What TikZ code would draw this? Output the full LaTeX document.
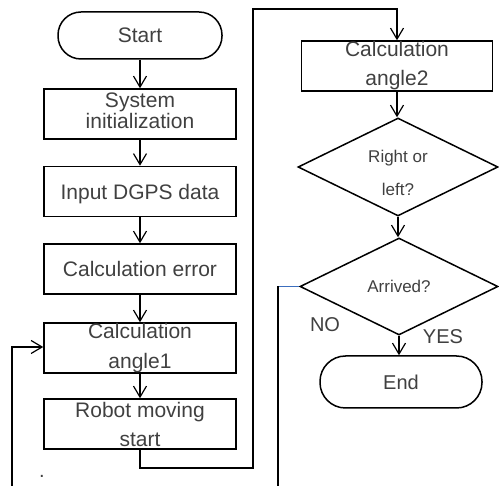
\documentclass[tikz,border=0pt]{standalone}
\usepackage{fontspec}
\setmainfont{Liberation Sans}
\usetikzlibrary{shapes.geometric,arrows.meta}
\begin{document}
\begin{tikzpicture}[x=1pt,y=-1pt,
  every node/.style={text=black!75},
  box/.style={draw=black,line width=1.5pt,minimum width=192pt,minimum height=50pt,inner sep=0pt,align=center,font=\fontsize{21}{21}\selectfont},
  term/.style={draw=black,line width=1.5pt,inner sep=0pt,font=\fontsize{21}{21}\selectfont},
  dec/.style={diamond,shape aspect=2,draw=black,line width=1.5pt,minimum width=200pt,minimum height=98pt,inner sep=0pt,align=center,font=\fontsize{17}{33}\selectfont},
  conn/.style={line width=1.2pt,-{Straight Barb[length=11pt,width=13pt,line width=1.2pt]}},
  plain/.style={line width=1.2pt},
  lbl/.style={font=\fontsize{20}{20}\selectfont,inner sep=0pt}
]
\useasboundingbox (0,0) rectangle (499,486);

% left column
\node[term,minimum width=164pt,minimum height=47pt,rounded corners=23pt] (start) at (140,35.5) {Start};
\node[box] (sys) at (140,114) {System\\initialization\rule[-6pt]{0pt}{6pt}};
\node[box,text depth=0pt] (dgps) at (140,191.5) {Input DGPS data};
\node[box] (err) at (140,269) {Calculation error};
\node[box,font=\fontsize{21}{30}\selectfont] (ang1) at (140,348) {Calculation\\angle1};
\node[box,font=\fontsize{21}{29}\selectfont] (robot) at (140,424) {Robot moving\\start};

% right column
\node[box,minimum width=191pt,font=\fontsize{21}{29}\selectfont] (ang2) at (397,66) {Calculation\\angle2};
\node[dec] (lr) at (398,167) {\rule{0pt}{25pt}Right or\\left?};
\node[dec,minimum width=198pt,minimum height=97pt] (arr) at (399,286.5) {Arrived?};
\node[term,minimum width=162pt,minimum height=52pt,rounded corners=25.5pt,font=\fontsize{20}{20}\selectfont] (end) at (401,382) {End};

% labels
\node[lbl] (no) at (325,325) {NO};
\node[lbl] (yes) at (443,337) {YES};
\node[inner sep=0pt,font=\fontsize{20}{20}\selectfont] (dot) at (42,476) {.};

% coordinates
\coordinate (c1) at (140,468);
\coordinate (c2) at (253,468);
\coordinate (c3) at (253,9);
\coordinate (n1) at (278,286.5);
\coordinate (n2) at (278,486);
\coordinate (l1) at (12,486);
\coordinate (l2) at (12,347);

% connectors
\draw[conn] (start) -- (sys);
\draw[conn] (sys) -- (dgps);
\draw[conn] (dgps) -- (err);
\draw[conn] (err) -- (ang1.north);
\draw[conn] (ang1) -- (robot);
\draw[conn] (robot.south) -- (c1) -- (c2) -- (c3) -- (ang2.north |- c3) -- (ang2.north);
\draw[conn] (ang2.south) -- (ang2.south |- lr.north);
\draw[conn] (lr.south) -- (lr.south |- arr.north);
\draw[conn] (arr.south) -- (arr.south |- end.north);
\draw[plain,draw={rgb,255:red,60;green,110;blue,190}] (arr.west) -- (n1);
\draw[plain] (n1) -- (n2);
\draw[conn] (l1) -- (l2) -- (ang1.west |- l2);
\end{tikzpicture}
\end{document}
